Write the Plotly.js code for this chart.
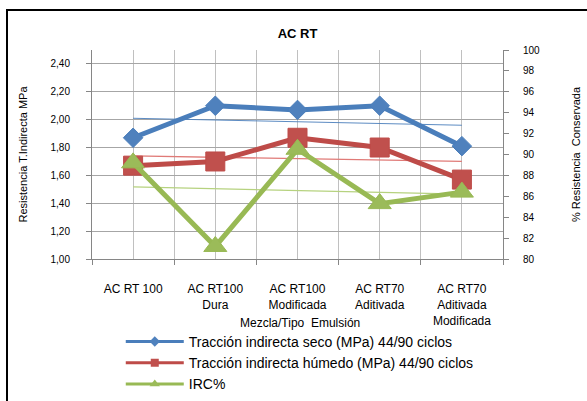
<!DOCTYPE html>
<html>
<head>
<meta charset="utf-8">
<script src="https://cdn.plot.ly/plotly-3.0.1.min.js"></script>
<style>
  html, body { margin: 0; padding: 0; background: #ffffff; }
  #wrap { position: relative; width: 587px; height: 401px; overflow: hidden; }
  #chart { position: absolute; left: 0; top: 0; width: 587px; height: 401px; }
  #frame { position: absolute; left: 6px; top: 9px; width: 600px; height: 420px;
           border-left: 2px solid #000; border-top: 2px solid #000; pointer-events: none; }
</style>
</head>
<body>
<div id="wrap">
  <div id="chart"></div>
  <div id="frame"></div>
</div>
<script>
// ---- data ----
const categories = [
  "AC RT 100",
  "AC RT100<br>Dura",
  "AC RT100<br>Modificada",
  "AC RT70<br>Aditivada",
  "AC RT70<br>Aditivada<br>Modificada"
];
const categoryPos = [0, 1, 2, 3, 4];
const seco = [1.87, 2.10, 2.07, 2.10, 1.81];        // MPa, left axis
const humedo = [1.67, 1.70, 1.87, 1.80, 1.57];      // MPa, left axis
const irc = [89.2, 81.2, 90.5, 85.3, 86.4];         // %, right axis
// linear trend lines (first / last category)
const trendPos = [0, 4];
const trendSeco = [2.01, 1.96];
const trendHumedo = [1.74, 1.70];
const trendIrc = [86.9, 86.2];
const boundaryPos = [-0.5, 0.5, 1.5, 2.5, 3.5, 4.5];
const leftTicks = [1.0, 1.2, 1.4, 1.6, 1.8, 2.0, 2.2, 2.4];
const seriesNames = [
  "Tracción indirecta seco (MPa) 44/90 ciclos",
  "Tracción indirecta húmedo (MPa) 44/90 ciclos",
  "IRC%"
];

const BLUE = "#4A7EBB", RED = "#BE4B48", GREEN = "#98B954";
const FONT = "Liberation Sans, Arial, sans-serif";

const traces = [
  { x: trendPos, y: trendSeco, mode: "lines", line: { color: BLUE, width: 1 }, opacity: 0.9,
    showlegend: false, hoverinfo: "skip" },
  { x: trendPos, y: trendHumedo, mode: "lines", line: { color: "#E07A77", width: 1.3 },
    showlegend: false, hoverinfo: "skip" },
  { x: trendPos, y: trendIrc, yaxis: "y2", mode: "lines", line: { color: "#B6D27F", width: 1.3 },
    showlegend: false, hoverinfo: "skip" },
  { x: categoryPos, y: seco, name: seriesNames[0], legendgroup: "a", showlegend: false,
    mode: "lines+markers", line: { color: BLUE, width: 5 },
    marker: { symbol: "diamond", size: 15, color: "#4F81BD", line: { color: BLUE, width: 1 } } },
  { x: categoryPos, y: humedo, name: seriesNames[1], legendgroup: "b", showlegend: false,
    mode: "lines+markers", line: { color: RED, width: 5 },
    marker: { symbol: "square", size: 19, color: "#C0504D", line: { color: RED, width: 1 } } },
  { x: categoryPos, y: irc, yaxis: "y2", name: seriesNames[2], legendgroup: "c", showlegend: false,
    mode: "lines+markers", line: { color: GREEN, width: 5 },
    marker: { symbol: "triangle-up", size: 20, color: "#9BBB59", line: { color: GREEN, width: 1 } } },
  // legend entries (smaller glyphs, as in the reference legend)
  { x: [null], y: [null], name: seriesNames[0], legendgroup: "a", mode: "lines+markers",
    line: { color: BLUE, width: 3 }, marker: { symbol: "diamond", size: 8, color: "#4F81BD" } },
  { x: [null], y: [null], name: seriesNames[1], legendgroup: "b", mode: "lines+markers",
    line: { color: RED, width: 3 }, marker: { symbol: "square", size: 8, color: "#C0504D" } },
  { x: [null], y: [null], name: seriesNames[2], legendgroup: "c", mode: "lines+markers",
    line: { color: GREEN, width: 3 }, marker: { symbol: "triangle-up", size: 9, color: "#9BBB59" } }
];

const layout = {
  width: 587, height: 401, autosize: false,
  paper_bgcolor: "#ffffff", plot_bgcolor: "#ffffff",
  separators: ",.",
  margin: { l: 92, r: 84, t: 50, b: 142, autoexpand: false },
  font: { family: FONT, size: 10, color: "#000" },
  title: { text: "<b>AC RT</b>", x: 0.507, xanchor: "center", y: 0.917, yanchor: "middle",
           font: { family: FONT, size: 13, color: "#000" } },
  xaxis: {
    range: [-0.5, 4.5], fixedrange: true, zeroline: false,
    tickmode: "array", tickvals: categoryPos, ticktext: categories,
    ticks: "", showgrid: true, gridcolor: "#C0C0C0", gridwidth: 1,
    showline: true, linecolor: "#868686", linewidth: 1,
    tickfont: { family: FONT, size: 12, color: "#000" }, ticklabelstandoff: 19,
    minor: { tickvals: boundaryPos, ticks: "outside", ticklen: 5, tickcolor: "#868686",
             showgrid: true, gridcolor: "#C0C0C0", gridwidth: 1 },
    automargin: false
  },
  yaxis: {
    range: [1.0, 2.5], fixedrange: true, zeroline: false,
    tickmode: "array", tickvals: leftTicks, tickformat: ".2f",
    ticks: "outside", ticklen: 5, tickcolor: "#868686",
    showgrid: true, gridcolor: "#A6A6A6", gridwidth: 1,
    showline: true, linecolor: "#868686", linewidth: 1,
    tickfont: { family: FONT, size: 10, color: "#000" }, ticklabelstandoff: 14,
    title: { text: "Resistencia T.Indirecta MPa", font: { family: FONT, size: 11, color: "#000" }, standoff: 20 },
    automargin: false
  },
  yaxis2: {
    overlaying: "y", side: "right",
    range: [80, 100], fixedrange: true, zeroline: false,
    tick0: 80, dtick: 2,
    ticks: "outside", ticklen: 5, tickcolor: "#868686",
    showgrid: false,
    showline: true, linecolor: "#868686", linewidth: 1,
    tickfont: { family: FONT, size: 10, color: "#000" }, ticklabelstandoff: 12,
    title: { text: "% Resistencia  Conservada", font: { family: FONT, size: 11, color: "#000" }, standoff: 33 },
    automargin: false
  },
  annotations: [
    { text: "Mezcla/Tipo  Emulsión", xref: "paper", yref: "paper", x: 0.506, y: -0.306,
      xanchor: "center", yanchor: "middle", showarrow: false,
      font: { family: FONT, size: 12, color: "#000" } }
  ],
  legend: {
    orientation: "v", x: 0.07, y: -0.32, xanchor: "left", yanchor: "top",
    bgcolor: "rgba(0,0,0,0)", itemwidth: 58, itemsizing: "trace",
    font: { family: FONT, size: 14, color: "#000" }, traceorder: "normal", tracegroupgap: 0
  },
  showlegend: true
};

Plotly.newPlot("chart", traces, layout, { staticPlot: true, displayModeBar: false });
</script>
</body>
</html>
